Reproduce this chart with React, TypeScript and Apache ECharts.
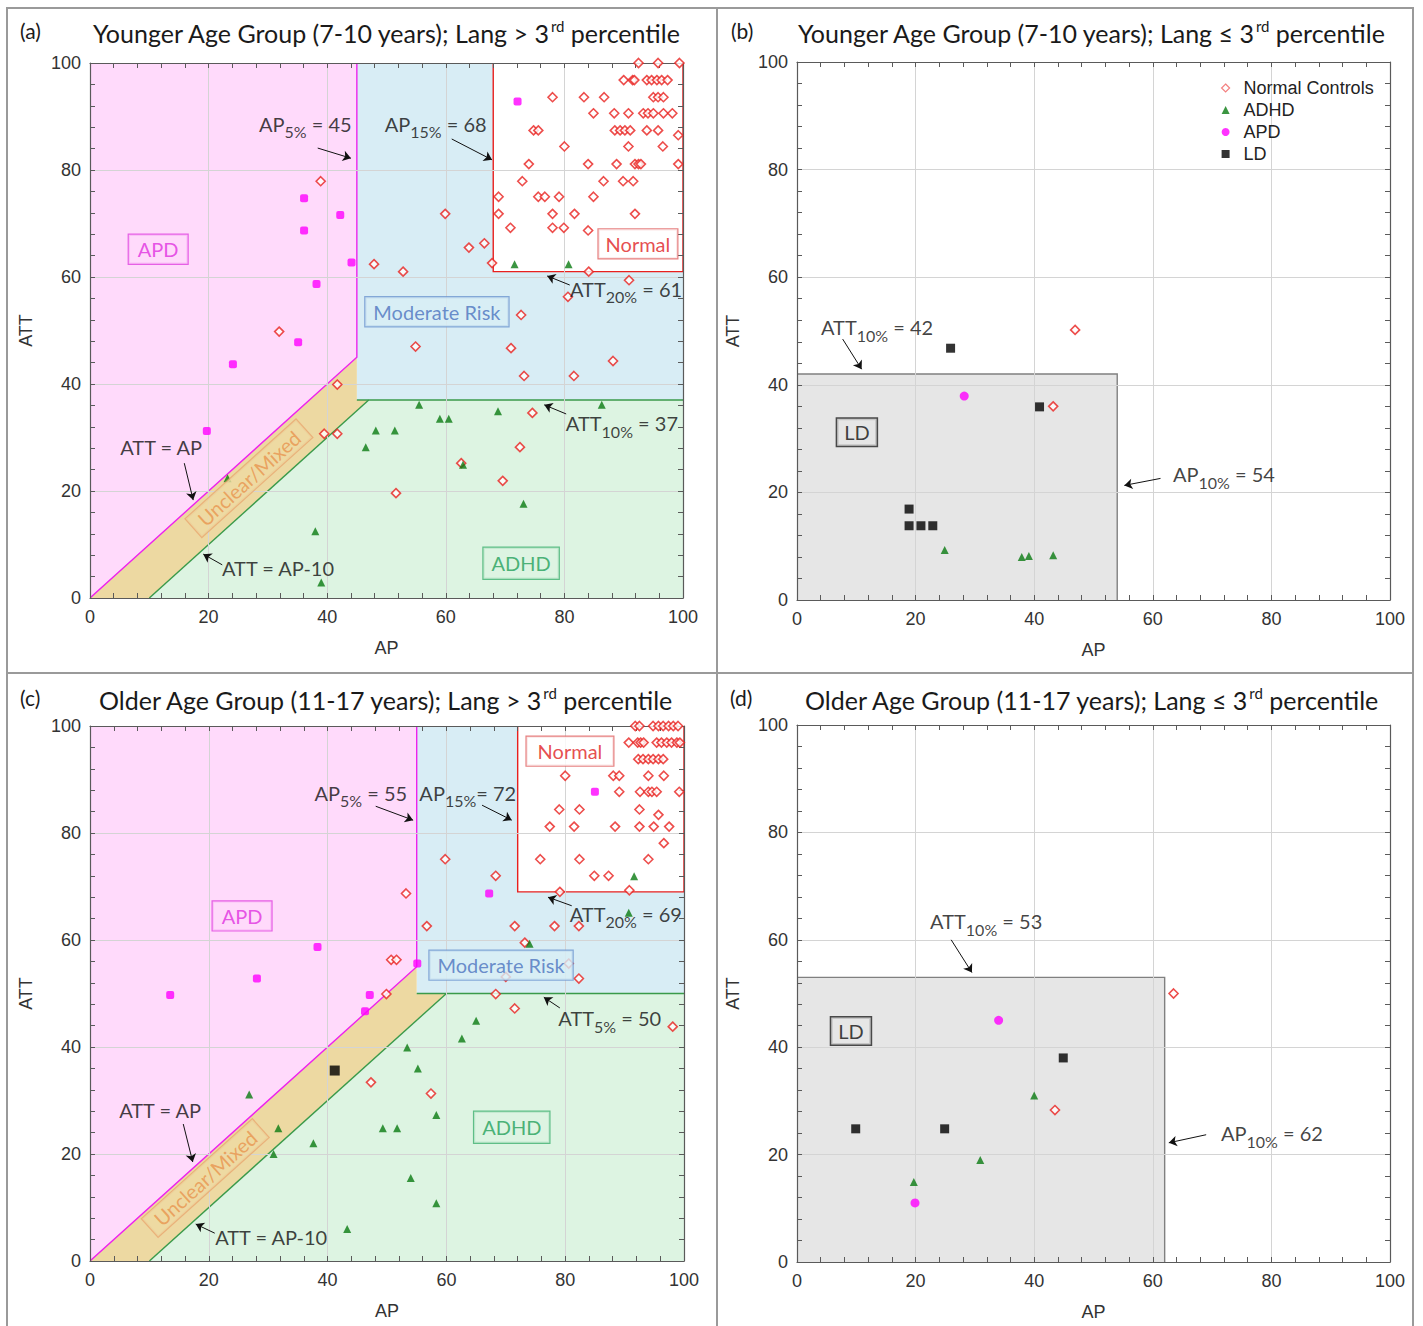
import React, { useEffect, useRef } from "react";
import * as echarts from "echarts";

const FONT_T = "Lato, 'Open Sans', sans-serif";
const FONT_A = "'Liberation Sans', Arial, sans-serif";

// ---- thresholds ----
const A_AP5 = 45, A_AP15 = 68, A_ATT20 = 61, A_ATT10 = 37;
const C_AP5 = 55, C_AP15 = 72, C_ATT20 = 69, C_ATT5 = 50;
const B_AP10 = 54, B_ATT10 = 42;
const D_AP10 = 62, D_ATT10 = 53;
const BAND = 10;

// ---- panel titles ----
const panelLetters = ["(a)", "(b)", "(c)", "(d)"];
const titleMain = [
  "Younger Age Group (7-10 years); Lang > 3",
  "Younger Age Group (7-10 years); Lang ≤ 3",
  "Older Age Group (11-17 years); Lang > 3",
  "Older Age Group (11-17 years); Lang ≤ 3",
];
const legendNames = ["Normal Controls", "ADHD", "APD", "LD"];

// ---- (a) data ----
const aNormal = [
  [38.9, 77.9], [59.9, 71.8], [63.9, 65.5], [66.5, 66.3], [47.9, 62.4], [52.8, 61.0], [31.9, 49.8], [54.9, 47.0],
  [41.7, 39.9], [74.6, 34.6], [39.5, 30.7], [41.7, 30.7], [72.5, 28.2], [62.6, 25.2], [69.6, 21.9], [51.6, 19.6],
  [67.8, 62.6], [84.1, 61.0], [90.9, 59.4], [80.6, 56.3], [72.7, 52.9], [71.0, 46.7], [88.2, 44.3], [73.2, 41.5], [81.6, 41.5],
  [92.5, 100], [95.8, 100], [99.4, 100],
  [90.0, 96.8], [91.5, 96.8], [91.8, 96.8], [93.9, 96.8], [94.7, 96.8], [95.6, 96.8], [96.4, 96.8], [97.4, 96.8],
  [78.0, 93.6], [83.3, 93.6], [86.7, 93.6], [95.0, 93.6], [95.8, 93.6], [96.7, 93.6],
  [84.9, 90.6], [88.4, 90.6], [90.8, 90.6], [93.3, 90.6], [94.1, 90.6], [95.0, 90.6], [96.7, 90.6], [98.2, 90.6],
  [74.8, 87.4], [75.6, 87.4], [88.5, 87.4], [89.4, 87.4], [90.2, 87.4], [91.1, 87.4], [93.9, 87.4], [95.8, 87.4], [99.2, 86.5],
  [80.0, 84.4], [90.8, 84.4], [96.6, 84.4],
  [74.0, 81.1], [84.0, 81.1], [88.8, 81.1], [91.9, 81.1], [92.5, 81.1], [92.9, 81.1], [99.2, 81.1],
  [72.9, 77.9], [86.6, 77.9], [89.9, 77.9], [91.6, 77.9],
  [68.9, 75.0], [75.6, 75.0], [76.7, 75.0], [79.1, 75.0], [84.9, 75.0],
  [68.9, 71.8], [78.0, 71.8], [81.7, 71.8], [91.9, 71.8],
  [70.9, 69.2], [78.0, 69.2], [79.9, 69.2], [84.0, 68.7],
];
const aADHD = [
  [55.5, 36.1], [86.3, 36.1], [68.8, 34.9], [59.0, 33.5], [60.5, 33.5], [48.2, 31.3], [51.4, 31.3], [46.5, 28.2],
  [62.9, 24.9], [23.2, 22.4], [73.1, 17.6], [38.0, 12.5], [39.0, 2.9], [71.6, 62.4], [80.7, 62.4],
];
const aAPD = [
  [36.1, 74.7], [42.2, 71.6], [36.1, 68.7], [44.1, 62.7], [38.2, 58.7], [35.1, 47.8], [24.1, 43.7], [19.7, 31.2], [72.1, 92.8],
];

// ---- (b) data ----
const bNormal = [[46.9, 50.2], [43.2, 36.0]];
const bADHD = [[24.9, 9.3], [37.9, 8.0], [39.1, 8.2], [43.2, 8.3]];
const bAPD = [[28.2, 37.9]];
const bLD = [[25.9, 46.8], [40.9, 35.9], [18.9, 16.9], [18.9, 13.8], [20.9, 13.8], [22.9, 13.8]];

// ---- (c) data ----
const cNormal = [
  [59.8, 75.1], [68.3, 72.0], [53.2, 68.7], [56.7, 62.6], [71.5, 62.6], [78.2, 62.6], [82.3, 62.6], [73.2, 59.5],
  [50.7, 56.3], [51.6, 56.3], [70.0, 53.1], [80.6, 55.6], [82.3, 52.8], [49.9, 49.9], [68.3, 49.9], [71.5, 47.2],
  [98.1, 43.8], [47.3, 33.4], [57.4, 31.3],
  [91.8, 100], [92.5, 100], [94.8, 100], [95.7, 100], [96.5, 100], [97.4, 100], [98.2, 100], [99.0, 100],
  [90.7, 96.9], [92.2, 96.9], [92.7, 96.9], [93.2, 96.9], [95.4, 96.9], [96.2, 96.9], [97.1, 96.9], [97.9, 96.9], [98.8, 96.9], [99.3, 96.9],
  [92.3, 93.8], [93.1, 93.8], [94.0, 93.8], [94.8, 93.8], [95.7, 93.8], [96.5, 93.8],
  [80.0, 90.7], [88.1, 90.7], [89.1, 90.7], [94.0, 90.7], [96.6, 90.7],
  [89.1, 87.7], [92.6, 87.7], [94.0, 87.7], [94.6, 87.7], [95.4, 87.7], [99.2, 87.7],
  [79.0, 84.4], [82.4, 84.4], [92.5, 84.4], [95.7, 83.4],
  [77.4, 81.2], [81.5, 81.2], [88.4, 81.2], [92.5, 81.2], [94.9, 81.2], [97.5, 81.2],
  [96.6, 78.1],
  [75.8, 75.1], [82.4, 75.1], [94.0, 75.1],
  [84.9, 72.0], [87.3, 72.0],
  [79.1, 69.0], [90.8, 69.3],
];
const cADHD = [
  [90.7, 65.1], [74.0, 59.3], [65.0, 44.9], [62.6, 41.6], [53.4, 39.9], [55.2, 36.0], [26.8, 31.1], [58.3, 27.3],
  [31.7, 24.8], [49.3, 24.8], [51.7, 24.8], [37.6, 22.0], [30.9, 20.0], [54.0, 15.5], [58.3, 10.8], [43.3, 6.0], [91.6, 71.9],
];
const cAPD = [
  [67.2, 68.7], [38.3, 58.7], [55.1, 55.6], [28.1, 52.8], [13.5, 49.7], [47.1, 49.7], [46.3, 46.7], [85.0, 87.7],
];
const cLD = [[41.2, 35.6]];

// ---- (d) data ----
const dNormal = [[63.5, 50.0], [43.5, 28.3]];
const dADHD = [[40.0, 31.0], [30.9, 19.0], [19.7, 14.9]];
const dAPD = [[34.0, 45.0], [19.9, 11.0]];
const dLD = [[9.9, 24.8], [24.9, 24.8], [44.9, 38.0]];

// ---- colours ----
const C_PINK = "#FFDAFB";
const C_BLUE = "#D8EDF5";
const C_GREEN = "#DDF4E2";
const C_TAN = "#EDD9A2";
const C_GRAY = "#E6E6E6";
const C_MAG = "#EE22EE";
const C_GRN_LINE = "#3A9A4A";
const C_RED = "#E8201E";

const grids = [
  { left: 90, top: 63, width: 593, height: 535 },
  { left: 797, top: 62, width: 593, height: 538 },
  { left: 90, top: 726, width: 594, height: 535 },
  { left: 797, top: 725, width: 593, height: 537 },
];

function regionSeries(gi: number, polys: any[], lines: any[]) {
  return {
    type: "custom",
    xAxisIndex: gi * 2,
    yAxisIndex: gi * 2,
    silent: true,
    z: 1,
    clip: true,
    data: [[0, 0]],
    renderItem: (_p: any, api: any) => ({
      type: "group",
      children: [
        ...polys.map((p) => ({
          type: "polygon",
          shape: { points: p.pts.map((q: number[]) => api.coord(q)) },
          style: { fill: p.fill, stroke: "none" },
        })),
        ...lines.map((l) => ({
          type: "polyline",
          shape: { points: l.pts.map((q: number[]) => api.coord(q)) },
          style: { stroke: l.color, lineWidth: l.width || 1.4, fill: "none" },
        })),
      ],
    }),
  };
}

function diagnosticRegions(gi: number, ap5: number, ap15: number, att20: number, attLow: number) {
  const bandEnd = attLow + BAND; // where ATT = AP-10 meets attLow
  return regionSeries(
    gi,
    [
      { pts: [[0, 0], [0, 100], [ap5, 100], [ap5, ap5]], fill: C_PINK },
      { pts: [[ap5, attLow], [ap5, 100], [100, 100], [100, attLow]], fill: C_BLUE },
      { pts: [[ap15, att20], [ap15, 100], [100, 100], [100, att20]], fill: "#FFFFFF" },
      { pts: [[0, 0], [ap5, ap5], [ap5, attLow], [bandEnd, attLow], [BAND, 0]], fill: C_TAN },
      { pts: [[BAND, 0], [bandEnd, attLow], [100, attLow], [100, 0]], fill: C_GREEN },
    ],
    [
      { pts: [[0, 0], [ap5, ap5], [ap5, 100]], color: C_MAG },
      { pts: [[BAND, 0], [bandEnd, attLow]], color: C_GRN_LINE },
      { pts: [[ap5, attLow], [100, attLow]], color: C_GRN_LINE },
      { pts: [[ap15, 100], [ap15, att20], [100, att20], [100, 100]], color: C_RED },
    ]
  );
}

function ldRegion(gi: number, ap10: number, att10: number) {
  return regionSeries(
    gi,
    [{ pts: [[0, 0], [0, att10], [ap10, att10], [ap10, 0]], fill: C_GRAY }],
    [{ pts: [[0, att10], [ap10, att10], [ap10, 0]], color: "#808080", width: 1.4 }]
  );
}

const annRich = {
  m: { fontFamily: FONT_T, fontSize: 20, color: "#111", lineHeight: 28 },
  s: { fontFamily: FONT_T, fontSize: 16, color: "#111", height: 12, verticalAlign: "bottom" },
};

function ann(x: number, y: number, main: string, sub?: string, rest?: string) {
  const text = sub ? `{m|${main}}{s|${sub}}{m|${rest}}` : `{m|${main}}`;
  return {
    value: [x, y],
    label: { show: true, position: "inside", formatter: text, rich: annRich },
  };
}

function box(x: number, y: number, text: string, color: string, border: string, bg: string, pad: number[], rotate = 0, bw = 1.2) {
  return {
    value: [x, y],
    label: {
      show: true,
      position: "inside",
      formatter: text,
      fontFamily: FONT_T,
      fontSize: 20,
      color,
      borderColor: border,
      borderWidth: bw,
      backgroundColor: bg,
      padding: pad,
      rotate,
    },
  };
}

function annSeries(gi: number, items: any[], arrows: number[][][]) {
  return {
    type: "scatter",
    xAxisIndex: gi * 2,
    yAxisIndex: gi * 2,
    symbolSize: 0,
    silent: true,
    clip: false,
    z: 6,
    data: items,
    markLine: {
      silent: true,
      symbol: ["none", "arrow"],
      symbolSize: 8,
      label: { show: false },
      lineStyle: { color: "#111", width: 1, type: "solid" },
      emphasis: { disabled: true },
      data: arrows.map(([p, q]) => [{ coord: p }, { coord: q }]),
    },
  };
}

function pointSeries(gi: number, name: string, data: number[][], kind: string, big = false) {
  const base: any = {
    type: "scatter",
    name,
    xAxisIndex: gi * 2,
    yAxisIndex: gi * 2,
    data,
    z: 5,
    clip: true,
    silent: true,
  };
  if (kind === "normal") {
    base.symbol = "diamond";
    base.symbolSize = 9;
    base.itemStyle = { color: "#FFFFFF", borderColor: C_RED, borderWidth: 1.6 };
  } else if (kind === "adhd") {
    base.symbol = "triangle";
    base.symbolSize = 8;
    base.itemStyle = { color: "#0A7A12" };
  } else if (kind === "apdSq") {
    base.symbol = "roundRect";
    base.symbolSize = 8;
    base.itemStyle = { color: "#FF00FF" };
  } else if (kind === "apdC") {
    base.symbol = "circle";
    base.symbolSize = 9;
    base.itemStyle = { color: "#FF00FF" };
  } else {
    base.symbol = "rect";
    base.symbolSize = big ? 10 : 9;
    base.itemStyle = { color: "#000000" };
  }
  return base;
}

function axis(gi: number, pos: string, labels: boolean, isX: boolean) {
  const o: any = {
    type: "value",
    gridIndex: gi,
    min: 0,
    max: 100,
    interval: 20,
    position: pos,
    axisLine: { show: true, onZero: false, lineStyle: { color: "#5A5A5A", width: 1.2 } },
    axisTick: { show: true, inside: true, length: 5, lineStyle: { color: "#5A5A5A" } },
    minorTick: { show: true, splitNumber: 5, length: 5, lineStyle: { color: "#5A5A5A" } },
    axisLabel: { show: labels, fontFamily: FONT_A, fontSize: 18, color: "#333", margin: isX ? 10 : 9 },
    splitLine: { show: labels, lineStyle: { color: "#D4D4D4", width: 1 } },
    minorSplitLine: { show: false },
    z: 2,
  };
  if (labels) {
    o.name = isX ? "AP" : "ATT";
    o.nameLocation = "middle";
    o.nameGap = isX ? 41 : 55;
    o.nameTextStyle = { fontFamily: FONT_A, fontSize: 18, color: "#333" };
  }
  return o;
}

function buildOption() {
  const xAxis: any[] = [];
  const yAxis: any[] = [];
  for (let gi = 0; gi < 4; gi++) {
    xAxis.push(axis(gi, "bottom", true, true), axis(gi, "top", false, true));
    yAxis.push(axis(gi, "left", true, false), axis(gi, "right", false, false));
  }

  const titleRich = {
    t: { fontFamily: FONT_T, fontSize: 25, fontWeight: "normal", color: "#1a1a1a", lineHeight: 30 },
    p: { fontFamily: FONT_T, fontSize: 15, fontWeight: "normal", color: "#1a1a1a", height: 16, verticalAlign: "top" },
  };
  const titlePos = [
    { lx: 20, tx: 93, y: 18 },
    { lx: 731, tx: 798, y: 18 },
    { lx: 20, tx: 99, y: 685 },
    { lx: 730, tx: 805, y: 685 },
  ];
  const title: any[] = [];
  titlePos.forEach((tp, i) => {
    title.push({
      text: panelLetters[i],
      left: tp.lx,
      top: tp.y + 2,
      padding: 0,
      textStyle: { fontFamily: FONT_T, fontSize: 21, fontWeight: "normal", color: "#1a1a1a" },
    });
    title.push({
      text: `{t|${titleMain[i]}}{p|rd}{t| percentile}`,
      left: tp.tx,
      top: tp.y,
      padding: 0,
      textStyle: { fontWeight: "normal", rich: titleRich },
    });
  });

  const pinkBox = [5, 9, 4, 9];
  const series: any[] = [
    // panel a
    diagnosticRegions(0, A_AP5, A_AP15, A_ATT20, A_ATT10),
    pointSeries(0, "Normal Controls", aNormal, "normal"),
    pointSeries(0, "APD", aAPD, "apdSq"),
    pointSeries(0, "ADHD", aADHD, "adhd"),
    annSeries(
      0,
      [
        ann(36.3, 88.6, "AP", "5%", ` = ${A_AP5}`),
        ann(58.3, 88.6, "AP", "15%", ` = ${A_AP15}`),
        ann(90.4, 57.8, "ATT", "20%", ` = ${A_ATT20}`),
        ann(89.7, 32.7, "ATT", "10%", ` = ${A_ATT10}`),
        ann(12.0, 28.2, "ATT = AP"),
        ann(31.7, 5.6, "ATT = AP-10"),
        box(11.5, 65.2, "APD", "#E030E0", "#E040E0", C_PINK, pinkBox),
        box(58.5, 53.5, "Moderate Risk", "#4A72BE", "#6E96CF", C_BLUE, [5, 8, 4, 8]),
        box(92.4, 66.2, "Normal", "#E0201E", "#E06060", "#FFFFFF", [5, 7, 4, 7]),
        box(72.7, 6.5, "ADHD", "#23A05A", "#40B070", C_GREEN, [6, 8, 5, 8]),
        box(26.8, 22.4, "Unclear/Mixed", "#E8944E", "#E8A870", C_TAN, [2, 9, 2, 9], 42),
      ],
      [
        [[38.4, 84.1], [44.0, 82.2]],
        [[61.0, 85.8], [67.8, 81.9]],
        [[80.9, 58.5], [77.1, 60.2]],
        [[80.3, 34.4], [76.6, 36.1]],
        [[15.9, 25.2], [17.4, 18.3]],
        [[22.3, 6.2], [19.1, 8.2]],
      ]
    ),
    // panel b
    ldRegion(1, B_AP10, B_ATT10),
    pointSeries(1, "Normal Controls", bNormal, "normal"),
    pointSeries(1, "ADHD", bADHD, "adhd"),
    pointSeries(1, "APD", bAPD, "apdC"),
    pointSeries(1, "LD", bLD, "ld"),
    annSeries(
      1,
      [
        ann(13.5, 50.7, "ATT", "10%", ` = ${B_ATT10}`),
        ann(72.0, 23.4, "AP", "10%", ` = ${B_AP10}`),
        box(10.1, 31.2, "LD", "#111", "#222", C_GRAY, [4, 7, 3, 7], 0, 1.5),
      ],
      [
        [[7.7, 48.5], [10.9, 42.9]],
        [[61.3, 22.6], [55.2, 21.3]],
      ]
    ),
    // panel c
    diagnosticRegions(2, C_AP5, C_AP15, C_ATT20, C_ATT5),
    pointSeries(2, "Normal Controls", cNormal, "normal"),
    pointSeries(2, "APD", cAPD, "apdSq"),
    pointSeries(2, "ADHD", cADHD, "adhd"),
    pointSeries(2, "LD", cLD, "ld", true),
    annSeries(
      2,
      [
        ann(45.6, 87.5, "AP", "5%", ` = ${C_AP5}`),
        ann(63.6, 87.5, "AP", "15%", `= ${C_AP15}`),
        ann(90.2, 64.9, "ATT", "20%", ` = ${C_ATT20}`),
        ann(87.5, 45.4, "ATT", "5%", ` = ${C_ATT5}`),
        ann(11.8, 28.2, "ATT = AP"),
        ann(30.5, 4.5, "ATT = AP-10"),
        box(25.6, 64.5, "APD", "#E030E0", "#E040E0", C_PINK, pinkBox),
        box(69.2, 55.3, "Moderate Risk", "#4A72BE", "#6E96CF", C_BLUE, [5, 8, 4, 8]),
        box(80.8, 95.3, "Normal", "#E0201E", "#E06060", "#FFFFFF", [5, 11, 4, 11]),
        box(71.0, 25.0, "ADHD", "#23A05A", "#40B070", C_GREEN, [6, 8, 5, 8]),
        box(19.4, 15.5, "Unclear/Mixed", "#E8944E", "#E8A870", C_TAN, [2, 9, 2, 9], 42),
      ],
      [
        [[48.1, 85.0], [54.4, 82.4]],
        [[66.0, 85.2], [71.0, 82.4]],
        [[81.1, 66.4], [77.1, 68.0]],
        [[79.1, 47.3], [76.4, 49.3]],
        [[15.7, 25.6], [17.3, 18.5]],
        [[21.0, 5.2], [17.8, 6.9]],
      ]
    ),
    // panel d
    ldRegion(3, D_AP10, D_ATT10),
    pointSeries(3, "Normal Controls", dNormal, "normal"),
    pointSeries(3, "ADHD", dADHD, "adhd"),
    pointSeries(3, "APD", dAPD, "apdC"),
    pointSeries(3, "LD", dLD, "ld"),
    annSeries(
      3,
      [
        ann(31.9, 63.5, "ATT", "10%", ` = ${D_ATT10}`),
        ann(80.1, 24.0, "AP", "10%", ` = ${D_AP10}`),
        box(9.1, 43.0, "LD", "#111", "#222", C_GRAY, [4, 7, 3, 7], 0, 1.5),
      ],
      [
        [[26.0, 60.0], [29.5, 53.9]],
        [[69.0, 23.7], [62.7, 22.2]],
      ]
    ),
  ];

  return {
    animation: false,
    backgroundColor: "#FFFFFF",
    title,
    grid: grids,
    xAxis,
    yAxis,
    legend: {
      orient: "vertical",
      left: 1216,
      top: 73,
      itemWidth: 8,
      itemHeight: 8,
      itemGap: 2,
      selectedMode: false,
      textStyle: { fontFamily: FONT_A, fontSize: 18, color: "#222", lineHeight: 20, padding: [0, 0, 0, 9] },
      data: [
        { name: legendNames[0], icon: "diamond", itemStyle: { color: "#FFFFFF", borderColor: "#F06060", borderWidth: 1.2 } },
        { name: legendNames[1], icon: "triangle", itemStyle: { color: "#0A7A12" } },
        { name: legendNames[2], icon: "circle", itemStyle: { color: "#FF00FF" } },
        { name: legendNames[3], icon: "rect", itemStyle: { color: "#000000" } },
      ],
    },
    graphic: [
      { type: "rect", shape: { x: 7, y: 8, width: 1406, height: 1330 }, style: { fill: "none", stroke: "#9A9A9A", lineWidth: 2 }, silent: true },
      { type: "line", shape: { x1: 717, y1: 8, x2: 717, y2: 1326 }, style: { stroke: "#9A9A9A", lineWidth: 2 }, silent: true },
      { type: "line", shape: { x1: 7, y1: 673, x2: 1413, y2: 673 }, style: { stroke: "#9A9A9A", lineWidth: 2 }, silent: true },
    ],
    series,
  };
}

export default function App() {
  const ref = useRef<HTMLDivElement>(null);
  useEffect(() => {
    document.body.style.margin = "0";
    const chart = echarts.init(ref.current as HTMLDivElement, null, { renderer: "svg" });
    chart.setOption(buildOption() as any);
    return () => chart.dispose();
  }, []);
  return <div ref={ref} style={{ width: 1423, height: 1326 }} />;
}
